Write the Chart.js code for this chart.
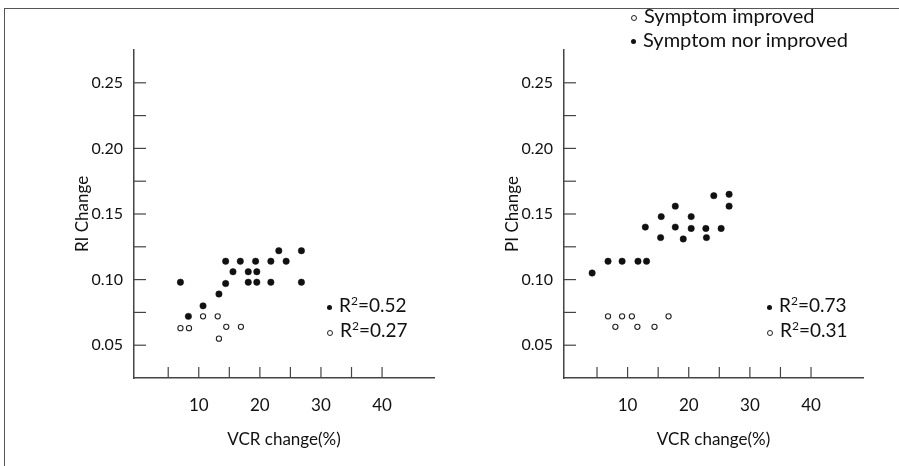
<!DOCTYPE html>
<html>
<head>
<meta charset="utf-8">
<script src="https://cdn.jsdelivr.net/npm/chart.js@4.4.0/dist/chart.umd.min.js"></script>
<style>
  body { margin: 0; background: #fff; }
  #frame { position: absolute; left: 4px; top: 8px; width: 895px; height: 458px;
           border-top: 1.5px solid #555; border-left: 1.5px solid #555; }
  .box { position: absolute; top: 0; height: 466px; }
  #boxRI { left: 0; width: 449px; }
  #boxPI { left: 449px; width: 450px; }
  .note { position: absolute; font-family: Lato, sans-serif; color: #111; white-space: nowrap; }
  .r2 { font-size: 19px; }
  .leg { font-size: 20px; }
  .dot { display: inline-block; width: 5px; height: 5px; border-radius: 50%;
         background: #111; margin-right: 7px; vertical-align: middle; }
  .ring { display: inline-block; width: 4px; height: 4px; border-radius: 50%;
          border: 1px solid #222; margin-right: 7px; vertical-align: middle; }
  sup { font-size: 12px; }
</style>
</head>
<body>
<div id="frame"></div>
<div class="box" id="boxRI"><canvas id="riChart"></canvas></div>
<div class="box" id="boxPI"><canvas id="piChart"></canvas></div>

<div class="note r2" style="left:327px; top:293px"><span class="dot"></span>R<sup>2</sup>=0.52</div>
<div class="note r2" style="left:327px; top:318px"><span class="ring"></span>R<sup>2</sup>=0.27</div>
<div class="note r2" style="left:767px; top:293px"><span class="dot"></span>R<sup>2</sup>=0.73</div>
<div class="note r2" style="left:767px; top:318px"><span class="ring"></span>R<sup>2</sup>=0.31</div>
<div class="note leg" style="left:631px; top:3px"><span class="ring"></span>Symptom improved</div>
<div class="note leg" style="left:631px; top:27px"><span class="dot"></span>Symptom nor improved</div>

<script>
// RI panel
const riNotImprovedX = [7.0, 8.3, 10.7, 13.3, 14.4, 14.4, 15.6, 16.8, 18.1, 18.1, 19.3, 19.5, 19.5, 21.8, 21.8, 23.1, 24.3, 26.8, 26.8]
const riNotImprovedY = [0.098, 0.072, 0.080, 0.089, 0.097, 0.114, 0.106, 0.114, 0.106, 0.098, 0.114, 0.106, 0.098, 0.114, 0.098, 0.122, 0.114, 0.122, 0.098]
const riImprovedX = [7.0, 8.4, 10.7, 13.1, 13.3, 14.5, 16.9]
const riImprovedY = [0.063, 0.063, 0.072, 0.072, 0.055, 0.064, 0.064]

// PI panel
const piNotImprovedX = [4.2, 6.8, 9.1, 11.7, 13.1, 12.9, 15.4, 15.5, 17.8, 17.8, 19.1, 20.4, 20.4, 22.8, 22.9, 24.1, 25.3, 26.6, 26.6]
const piNotImprovedY = [0.105, 0.114, 0.114, 0.114, 0.114, 0.140, 0.132, 0.148, 0.156, 0.140, 0.131, 0.148, 0.139, 0.139, 0.132, 0.164, 0.139, 0.165, 0.156]
const piImprovedX = [6.8, 8.0, 9.1, 10.7, 11.6, 14.4, 16.7]
const piImprovedY = [0.072, 0.064, 0.072, 0.072, 0.064, 0.064, 0.072]

// ticks
const xTickLabels = [10, 20, 30, 40]
const xTickMarks = [5, 10, 15, 20, 25, 30, 35, 40]
const yTickLabels = [0.05, 0.10, 0.15, 0.20, 0.25]
const yTickMarks = [0.05, 0.075, 0.10, 0.125, 0.15, 0.175, 0.20, 0.225, 0.25]

const toPoints = (xs, ys) => xs.map((x, i) => ({ x: x, y: ys[i] }))

// inward tick marks on both axes
const tickMarks = {
    id: 'tickMarks',
    afterDraw(chart) {
        const ctx = chart.ctx
        const x = chart.scales.x
        const y = chart.scales.y
        ctx.save()
        ctx.strokeStyle = '#444'
        ctx.lineWidth = 1.2
        xTickMarks.forEach(v => {
            const px = x.getPixelForValue(v)
            ctx.beginPath()
            ctx.moveTo(px, y.bottom)
            ctx.lineTo(px, y.bottom - 11)
            ctx.stroke()
        })
        yTickMarks.forEach(v => {
            const py = y.getPixelForValue(v)
            ctx.beginPath()
            ctx.moveTo(x.left, py)
            ctx.lineTo(x.left + 12, py)
            ctx.stroke()
        })
        ctx.restore()
    }
}

function grafico(id, notX, notY, impX, impY, yTitle, yWidth, yTitlePad, padRight, xMin) {
    const ctx = document.getElementById(id).getContext('2d')
    new Chart(ctx, {
        type: 'scatter',
        data: {
            datasets: [{
                data: toPoints(notX, notY),
                pointRadius: 3.2,
                pointBackgroundColor: '#111',
                pointBorderColor: '#111',
                pointBorderWidth: 0.5
            }, {
                data: toPoints(impX, impY),
                pointRadius: 2.6,
                pointBackgroundColor: '#fff',
                pointBorderColor: '#222',
                pointBorderWidth: 1.1
            }]
        },
        options: {
            responsive: true,
            maintainAspectRatio: false,
            animation: false,
            layout: { padding: { top: 50, right: padRight, bottom: 0, left: 0 } },
            plugins: {
                legend: { display: false },
                tooltip: { enabled: false }
            },
            scales: {
                x: {
                    type: 'linear',
                    min: xMin,
                    max: 48.5,
                    afterFit: s => { s.height = 88 },
                    afterBuildTicks: s => { s.ticks = xTickLabels.map(v => ({ value: v })) },
                    grid: { display: false, drawTicks: false },
                    border: { display: true, color: '#444', width: 1.5 },
                    ticks: { padding: 17, color: '#111', font: { family: 'Lato', size: 17 } },
                    title: {
                        display: true, text: 'VCR change(%)', color: '#111',
                        font: { family: 'Lato', size: 17 }, padding: { top: 0, bottom: 16 }
                    }
                },
                y: {
                    min: 0.025,
                    max: 0.275,
                    afterFit: s => { s.width = yWidth },
                    afterBuildTicks: s => { s.ticks = yTickLabels.map(v => ({ value: v })) },
                    grid: { display: false, drawTicks: false },
                    border: { display: true, color: '#444', width: 1.5 },
                    ticks: {
                        padding: 11, color: '#111', font: { family: 'Lato', size: 16 },
                        callback: v => v.toFixed(2)
                    },
                    title: {
                        display: true, text: yTitle, color: '#111',
                        font: { family: 'Lato', size: 17 }, padding: { top: yTitlePad, bottom: 0 }
                    }
                }
            }
        },
        plugins: [tickMarks]
    })
}

grafico('riChart', riNotImprovedX, riNotImprovedY, riImprovedX, riImprovedY, 'RI Change', 134, 72, 15, -0.6)
grafico('piChart', piNotImprovedX, piNotImprovedY, piImprovedX, piImprovedY, 'PI Change', 115, 53, 36, -0.4)
</script>
</body>
</html>
